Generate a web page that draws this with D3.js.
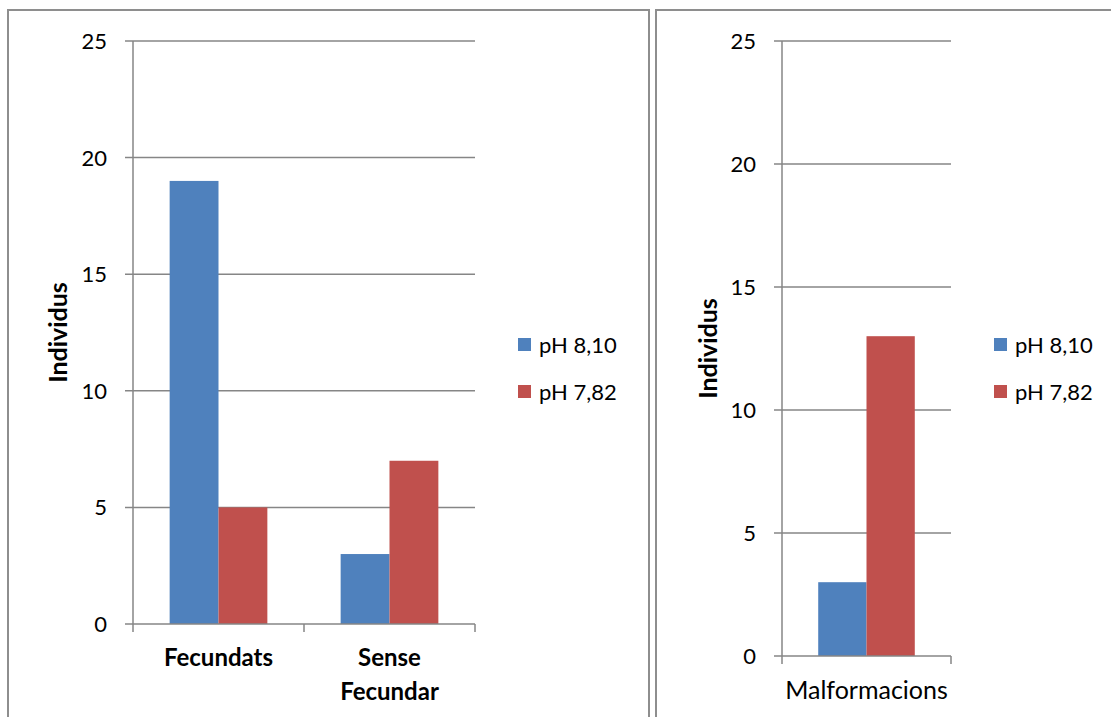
<!DOCTYPE html>
<html>
<head>
<meta charset="utf-8">
<script src="https://cdn.jsdelivr.net/npm/d3@7"></script>
<style>
  html, body { margin: 0; padding: 0; background: #fff; }
  svg { display: block; font-family: Lato, "Open Sans", sans-serif; }
</style>
</head>
<body>
<svg id="chart" width="1111" height="717"></svg>
<script>
// ---- data ----
const series = ["pH 8,10", "pH 7,82"];
const colors = ["#4F81BD", "#C0504D"];
const leftCategories = ["Fecundats", "Sense Fecundar"];
const leftCategoryLines = [["Fecundats"], ["Sense", "Fecundar"]];
const leftPH810 = [19, 3];
const leftPH782 = [5, 7];
const rightCategories = ["Malformacions"];
const rightCategoryLines = [["Malformacions"]];
const rightPH810 = [3];
const rightPH782 = [13];
const yTicks = [0, 5, 10, 15, 20, 25];
const yTitle = "Individus";

const svg = d3.select("#chart");
const gridColor = "#868686";
const numSize = 22;

// panel borders
svg.append("rect").attr("x", 8).attr("y", 10).attr("width", 641).attr("height", 730)
  .attr("fill", "none").attr("stroke", "#8e8e8e").attr("stroke-width", 2);
svg.append("rect").attr("x", 656).attr("y", 10).attr("width", 500).attr("height", 730)
  .attr("fill", "none").attr("stroke", "#8e8e8e").attr("stroke-width", 2);

function drawPanel(cfg) {
  const g = svg.append("g");
  const y = d3.scaleLinear().domain([0, 25]).range([cfg.bottom, cfg.top]);
  const x = d3.scaleBand().domain(cfg.categories).range([cfg.left, cfg.right]).padding(0);
  const xs = d3.scaleBand().domain(series).range([0, x.bandwidth()]).paddingInner(0).paddingOuter(0.75);

  // gridlines
  g.selectAll("line.grid").data(yTicks.filter(t => t > 0)).join("line")
    .attr("x1", cfg.left - 8).attr("x2", cfg.right)
    .attr("y1", d => y(d)).attr("y2", d => y(d))
    .attr("stroke", gridColor).attr("stroke-width", 1.5);

  // bars
  cfg.categories.forEach((c, i) => {
    [cfg.s1[i], cfg.s2[i]].forEach((v, j) => {
      g.append("rect")
        .attr("x", x(c) + xs(series[j]))
        .attr("width", xs.bandwidth())
        .attr("y", y(v))
        .attr("height", y(0) - y(v))
        .attr("fill", colors[j]);
    });
  });

  // y axis line
  g.append("line").attr("x1", cfg.left).attr("x2", cfg.left)
    .attr("y1", y(25)).attr("y2", y(0))
    .attr("stroke", gridColor).attr("stroke-width", 1.5);
  // x axis line with tick at 0
  g.append("line").attr("x1", cfg.left - 8).attr("x2", cfg.right)
    .attr("y1", y(0)).attr("y2", y(0))
    .attr("stroke", gridColor).attr("stroke-width", 1.5);
  // x category ticks (boundaries)
  const bounds = cfg.categories.map(c => x(c)).concat([x(cfg.categories[cfg.categories.length - 1]) + x.bandwidth()]);
  g.selectAll("line.xt").data(bounds).join("line")
    .attr("x1", d => d).attr("x2", d => d)
    .attr("y1", y(0)).attr("y2", y(0) + 8)
    .attr("stroke", gridColor).attr("stroke-width", 1.5);

  // y tick labels
  g.selectAll("text.yl").data(yTicks).join("text")
    .attr("x", cfg.left - 26).attr("y", d => y(d))
    .attr("dy", "0.36em").attr("text-anchor", "end")
    .attr("font-size", numSize).attr("fill", "#000")
    .text(d => d);

  // category labels
  cfg.categories.forEach((c, i) => {
    cfg.labelLines[i].forEach((ln, k) => {
      g.append("text")
        .attr("x", x(c) + x.bandwidth() / 2)
        .attr("y", cfg.labelY + k * 34)
        .attr("text-anchor", "middle")
        .attr("font-size", cfg.labelSize)
        .attr("font-weight", cfg.labelBold ? "bold" : "normal")
        .attr("fill", "#000")
        .text(ln);
    });
  });

  // y title
  const cy = (y(0) + y(25)) / 2;
  g.append("text")
    .attr("transform", `translate(${cfg.titleX},${cy}) rotate(-90)`)
    .attr("text-anchor", "middle").attr("dy", "0.36em")
    .attr("font-size", 25).attr("font-weight", "bold").attr("fill", "#000")
    .text(yTitle);

  // legend
  series.forEach((s, j) => {
    const ly = 345 + j * 47;
    g.append("rect").attr("x", cfg.legendX).attr("y", ly - 7).attr("width", 13).attr("height", 13)
      .attr("fill", colors[j]);
    g.append("text").attr("x", cfg.legendX + 21).attr("y", ly).attr("dy", "0.36em")
      .attr("font-size", numSize).attr("fill", "#000").text(s);
  });
}

drawPanel({
  categories: leftCategories, labelLines: leftCategoryLines, labelBold: true, labelSize: 24,
  s1: leftPH810, s2: leftPH782,
  left: 133, right: 475, top: 41, bottom: 624,
  labelY: 666, titleX: 58, legendX: 518
});
drawPanel({
  categories: rightCategories, labelLines: rightCategoryLines, labelBold: false, labelSize: 25,
  s1: rightPH810, s2: rightPH782,
  left: 782, right: 951, top: 41, bottom: 656,
  labelY: 699, titleX: 708, legendX: 994
});
</script>
</body>
</html>
